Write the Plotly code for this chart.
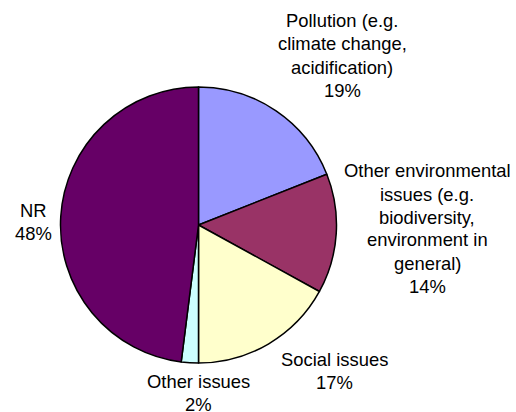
import plotly.graph_objects as go

# Share of responses by issue category
categories = [
    "Pollution (e.g. climate change, acidification)",
    "Other environmental issues (e.g. biodiversity, environment in general)",
    "Social issues",
    "Other issues",
    "NR",
]
shares = [19, 14, 17, 2, 48]
colors = ["#9999FF", "#993366", "#FFFFCC", "#CCFFFF", "#660066"]

# Wrapped label lines for the outside labels
label_lines = [
    ["Pollution (e.g.", "climate change,", "acidification)"],
    ["Other environmental", "issues (e.g.", "biodiversity,", "environment in", "general)"],
    ["Social issues"],
    ["Other issues"],
    ["NR"],
]
# Label anchor in pixels: centre x and the y of the first line (from top)
label_pos = [(342, 21), (427, 171), (334, 359), (198, 381), (33, 210)]
LINE_STEP = 23

W, H = 516, 412
FONT = "Liberation Sans, Arial, sans-serif"

fig = go.Figure(
    go.Pie(
        labels=categories,
        values=shares,
        sort=False,
        direction="clockwise",
        rotation=0,
        textinfo="none",
        hoverinfo="label+percent",
        marker=dict(colors=colors, line=dict(color="black", width=1.5)),
        domain=dict(x=[60 / W, 337 / W], y=[1 - 363 / H, 1 - 87 / H]),
        showlegend=False,
    )
)

total = sum(shares)
for lines, val, (px, py) in zip(label_lines, shares, label_pos):
    rows = lines + [f"{round(100 * val / total)}%"]
    for k, row in enumerate(rows):
        fig.add_annotation(
            x=px / W, y=1 - (py + k * LINE_STEP) / H,
            xref="paper", yref="paper",
            xanchor="center", yanchor="middle",
            text=row, showarrow=False, align="center",
            font=dict(family=FONT, size=18.4, color="black"),
        )

fig.update_layout(
    width=W, height=H,
    margin=dict(l=0, r=0, t=0, b=0),
    paper_bgcolor="white",
    plot_bgcolor="white",
)

fig.write_html("out.html")
